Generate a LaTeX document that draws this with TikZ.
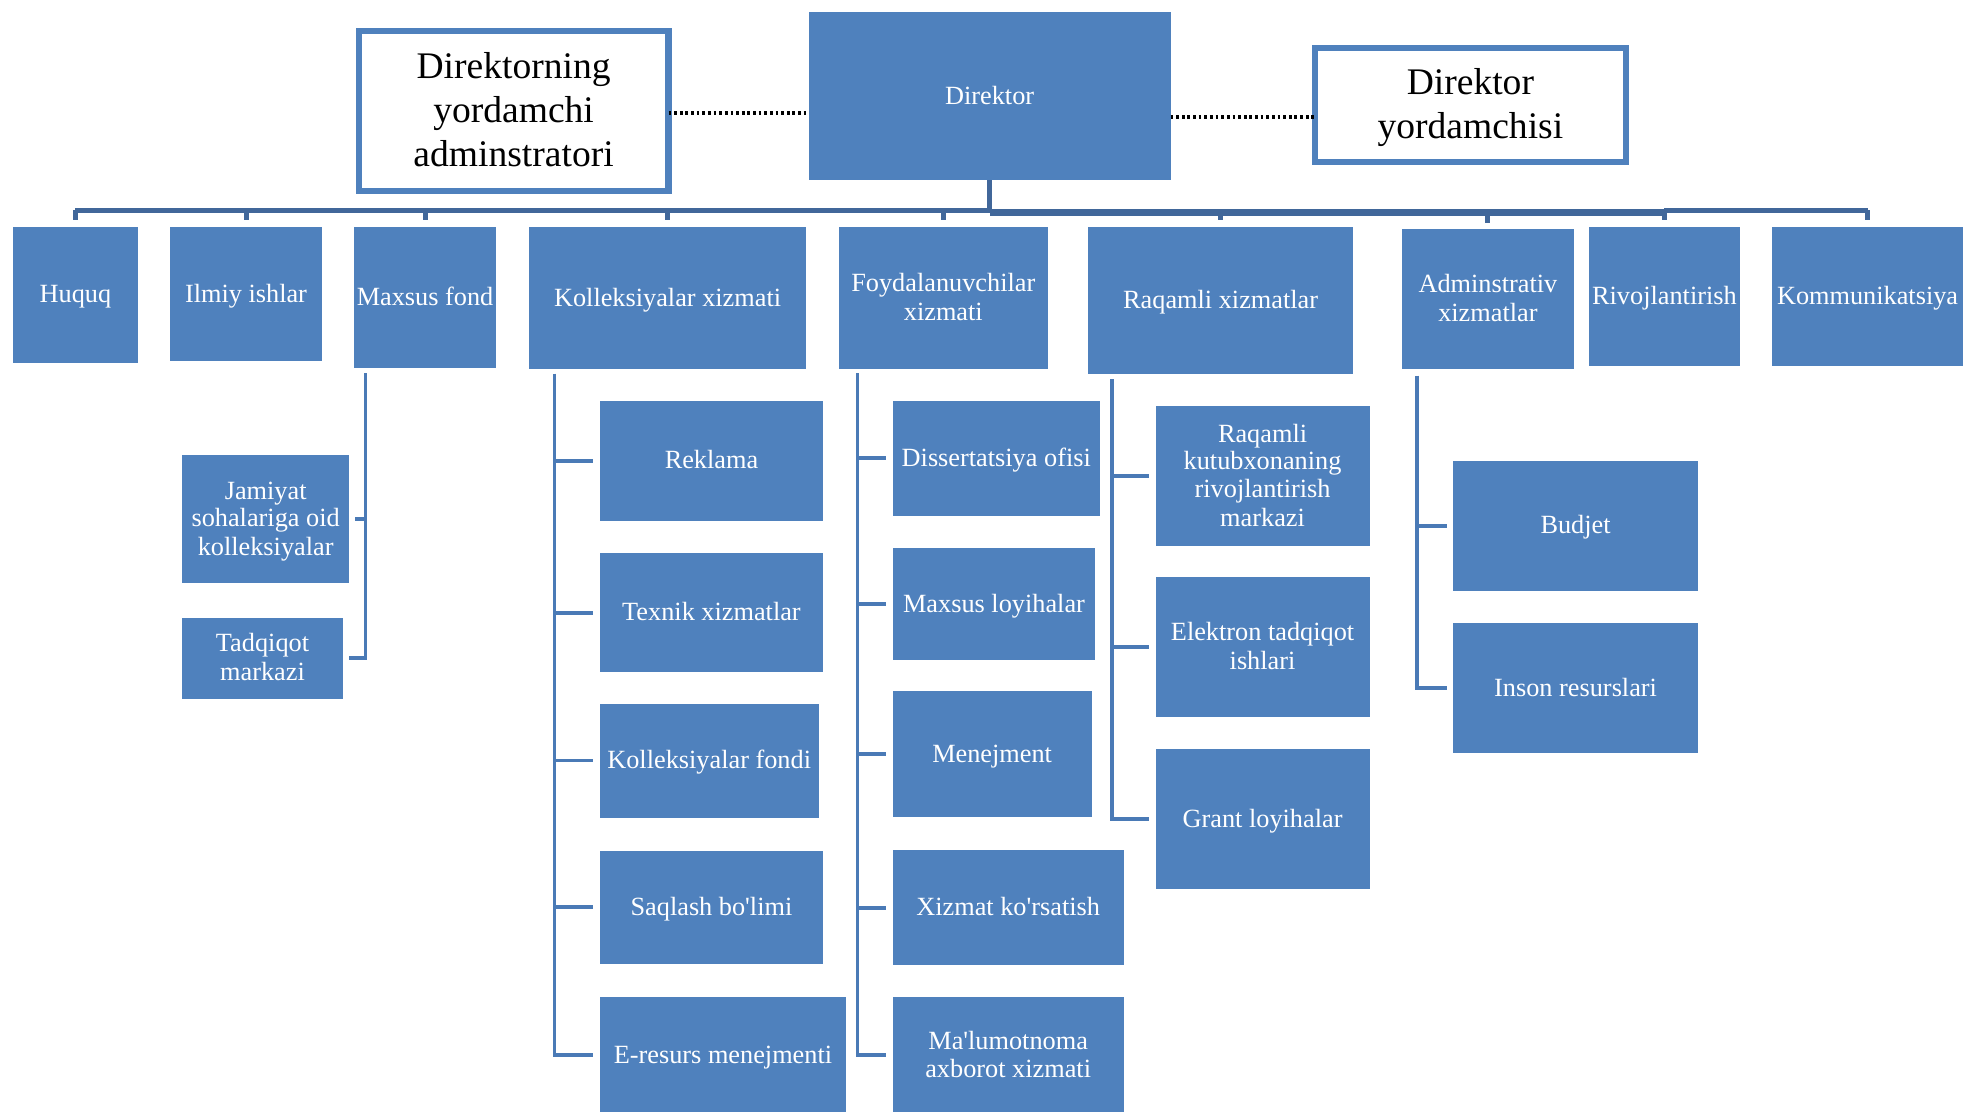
\documentclass[tikz,border=0pt]{standalone}
\usepackage{fontspec}
\setmainfont{Liberation Serif}
\definecolor{boxblue}{HTML}{4F81BD}
\definecolor{busblue}{HTML}{41679A}
\definecolor{linkblue}{HTML}{4A7AB6}
\newcommand\wstrut{\rule[-0.215em]{0pt}{1.05em}}
\newcommand\orgbox[7]{\node[#1,minimum width={#5pt-#3pt},minimum height={#6pt-#4pt}] (#2) at ({(#3+#5)/2},{(#4+#6)/2}) {\wstrut#7\wstrut};}
\newcommand\apo{\textquotesingle}
\begin{document}
\begin{tikzpicture}[x=1pt,y=-1pt,
 ubx/.style={fill=boxblue,text=white,inner sep=0pt,outer sep=0pt,align=center,font=\fontsize{21}{22}\selectfont},
 tbx/.style={draw=boxblue,line width=5pt,fill=white,text=black,inner sep=0pt,outer sep=0pt,align=center,font=\fontsize{30}{35}\selectfont},
 bus/.style={draw=busblue,line width=4pt},
 tick/.style={draw=busblue,line width=4pt},
 link/.style={draw=linkblue,line width=3pt,line join=miter},
 dots/.style={draw=black,line width=3.5pt,dash pattern=on 2.2pt off 2.3pt}]
\useasboundingbox (0,0) rectangle (1568,888.2);

% top level
\orgbox{ubx}{dir}{646}{9.5}{935}{144}{Direktor}
\orgbox{tbx}{adm}{286.5}{24.5}{534}{152.5}{Direktorning\\yordamchi\\adminstratori}
\orgbox{tbx}{yord}{1050.5}{38.5}{1298.5}{129.5}{Direktor\\yordamchisi}

% level 1
\orgbox{ubx}{huquq}{10}{181}{110.5}{290}{Huquq}
\orgbox{ubx}{ilmiy}{136}{181}{257}{288.5}{Ilmiy ishlar}
\orgbox{ubx}{maxsus}{283}{181}{396}{294}{Maxsus fond}
\orgbox{ubx}{kol}{422.5}{181}{644}{295}{Kolleksiyalar xizmati}
\orgbox{ubx}{foyd}{670}{181}{837}{294.5}{Foydalanuvchilar\\xizmati}
\orgbox{ubx}{raq}{869}{181}{1081}{298.5}{Raqamli xizmatlar}
\orgbox{ubx}{adminx}{1120}{183}{1257}{295}{Adminstrativ\\xizmatlar}
\orgbox{ubx}{rivoj}{1269}{181}{1390}{292}{Rivojlantirish}
\orgbox{ubx}{kommun}{1415.5}{181}{1568}{292}{Kommunikatsiya}

% level 2
\orgbox{ubx}{jamiyat}{145.4}{363.5}{279}{466}{Jamiyat\\sohalariga oid\\kolleksiyalar}
\orgbox{ubx}{tadq}{145.4}{493.6}{274}{558}{Tadqiqot\\markazi}

\orgbox{ubx}{reklama}{479}{320}{657.6}{416}{Reklama}
\orgbox{ubx}{texnik}{479}{442}{657.6}{537}{Texnik xizmatlar}
\orgbox{ubx}{kolf}{479}{562}{654}{653}{Kolleksiyalar fondi}
\orgbox{ubx}{saqlash}{479}{679.5}{657.6}{770}{Saqlash bo\apo limi}
\orgbox{ubx}{eresurs}{479}{796}{676}{890}{E-resurs menejmenti}

\orgbox{ubx}{diss}{713}{320}{878.6}{412}{Dissertatsiya ofisi}
\orgbox{ubx}{mloy}{713}{438}{875}{527}{Maxsus loyihalar}
\orgbox{ubx}{menej}{713}{552}{872}{652.6}{Menejment}
\orgbox{ubx}{xizmat}{713}{679}{897.6}{771}{Xizmat ko\apo rsatish}
\orgbox{ubx}{malum}{713}{796}{897.6}{890}{Ma\apo lumotnoma\\axborot xizmati}

\orgbox{ubx}{raqk}{923}{324.5}{1094}{436}{Raqamli\\kutubxonaning\\rivojlantirish\\markazi}
\orgbox{ubx}{elek}{923}{461}{1094}{573}{Elektron tadqiqot\\ishlari}
\orgbox{ubx}{grant}{923}{598.5}{1094}{710}{Grant loyihalar}

\orgbox{ubx}{budjet}{1160.6}{368}{1356.5}{472}{Budjet}
\orgbox{ubx}{inson}{1160.6}{497.5}{1356.5}{601.5}{Inson resurslari}

% dotted links
\coordinate (dl) at (0,90.5);
\coordinate (dr) at (0,93.7);
\draw[dots] (adm.east |- dl) -- (dir.west |- dl);
\draw[dots] (dir.east |- dr) -- (yord.west |- dr);

% bus
\coordinate (busL) at (0,168);
\coordinate (busR) at (0,169.4);
\draw[tick] (dir.south) -- (dir.south |- busR);
\draw[bus,line width=3.5pt] (huquq.north |- busL) -- (ilmiy.north |- busL);
\draw[bus] (ilmiy.north |- busL) -- (dir.south |- busL);
\draw[bus,line width=5.5pt] (dir.south |- busR) -- (rivoj.north |- busR);
\draw[bus] (rivoj.north |- busL) -- (kommun.north |- busL);
\foreach \n in {huquq,ilmiy,maxsus,kol,foyd}
  \draw[tick] (\n.north |- busL) -- ([yshift=5pt]\n.north);
\foreach \n in {raq,adminx,rivoj}
  \draw[tick] (\n.north |- busR) -- ([yshift=5pt]\n.north);
\draw[tick] (kommun.north |- busL) -- ([yshift=5pt]kommun.north);

% sub-trees
\coordinate (mv) at (292,298);
\draw[link] (mv) -- (mv |- tadq.east) -- ([xshift=4.5pt]tadq.east);
\draw[link] (mv |- jamiyat.east) -- ([xshift=4.5pt]jamiyat.east);

\coordinate (kv) at (443,298.5);
\draw[link] (kv) -- (kv |- eresurs.west) -- ([xshift=-5pt]eresurs.west);
\foreach \n in {reklama,texnik,kolf,saqlash}
  \draw[link] (kv |- \n.west) -- ([xshift=-5pt]\n.west);

\coordinate (fv) at (685,298);
\draw[link] (fv) -- (fv |- malum.west) -- ([xshift=-5pt]malum.west);
\foreach \n in {diss,mloy,menej,xizmat}
  \draw[link] (fv |- \n.west) -- ([xshift=-5pt]\n.west);

\coordinate (rv) at (888,303);
\draw[link] (rv) -- (rv |- grant.west) -- ([xshift=-5pt]grant.west);
\foreach \n in {raqk,elek}
  \draw[link] (rv |- \n.west) -- ([xshift=-5pt]\n.west);

\coordinate (av) at (1132,300);
\draw[link] (av) -- (av |- inson.west) -- ([xshift=-4.5pt]inson.west);
\draw[link] (av |- budjet.west) -- ([xshift=-4.5pt]budjet.west);
\end{tikzpicture}
\end{document}
